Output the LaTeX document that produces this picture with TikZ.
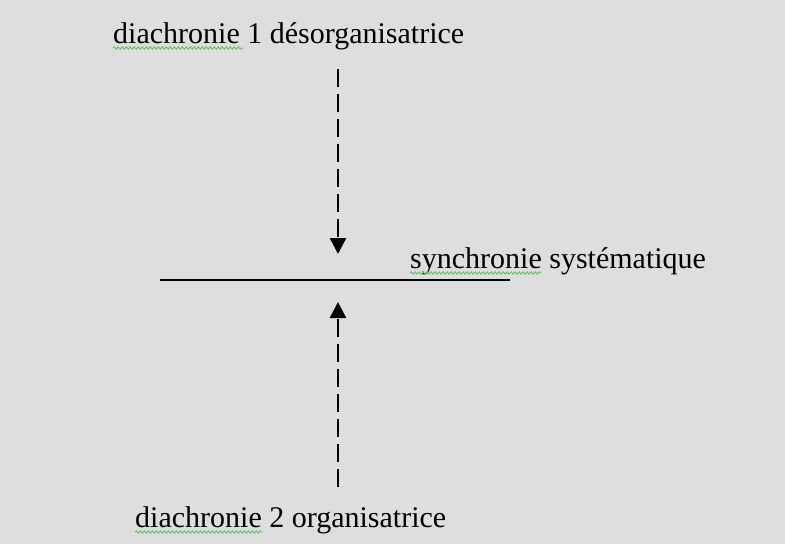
\documentclass[tikz,border=0pt]{standalone}
\usepackage{fontspec}
\setmainfont{Liberation Serif}
\usetikzlibrary{arrows.meta,decorations.pathmorphing}
\definecolor{bg}{HTML}{DEDEDE}
\definecolor{squig}{HTML}{6CC06C}
\tikzset{
  lbl/.style={anchor=base west,inner sep=0pt,font=\fontsize{30}{36}\selectfont},
  darrow/.style={line width=2.4pt,dash pattern=on 18pt off 7pt,-{Triangle[length=16pt,width=16pt]}},
  axis/.style={line width=2.4pt},
  spell/.style={squig,line width=1pt,decorate,decoration={snake,amplitude=1.2pt,segment length=4pt}}
}
\begin{document}
\begin{tikzpicture}[x=1pt,y=-1pt]
\fill[bg] (0,0) rectangle (785,544);
\useasboundingbox (0,0) rectangle (785,544);
\node[lbl] (t1) at (113,43) {diachronie 1 désorganisatrice};
\node[lbl] (syn) at (410,268) {synchronie systématique};
\node[lbl] (t2) at (135,527) {diachronie 2 organisatrice};
\coordinate (l1) at (160,280);
\coordinate (l2) at (510,280);
\draw[axis] (l1) -- (l2);
\coordinate (d1) at (338,69);
\coordinate (d2) at (338,254);
\draw[darrow] (d1) -- (d2);
\coordinate (u1) at (338,487);
\coordinate (u2) at (338,302);
\draw[darrow] (u1) -- (u2);
\draw[spell] (113,48) -- (243,48);
\draw[spell] (410,273) -- (541,273);
\draw[spell] (135,532) -- (262,532);
\end{tikzpicture}
\end{document}
